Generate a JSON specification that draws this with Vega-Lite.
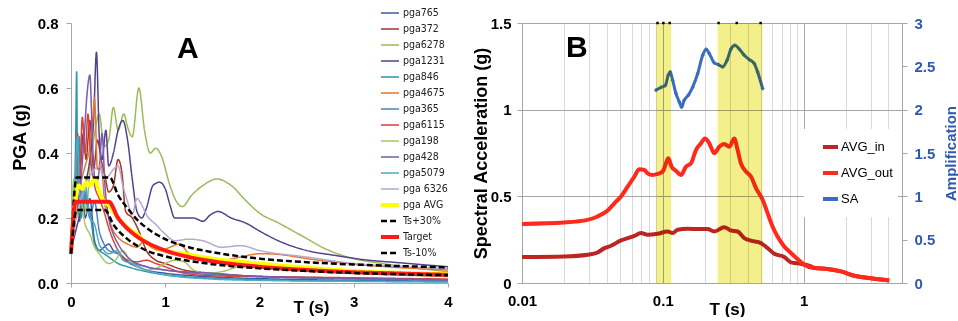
{
"$schema": "https://vega.github.io/schema/vega-lite/v6.json",
"background": "white",
"padding": {"left": 11, "top": 5, "right": 0, "bottom": 0},
"bounds": "flush",
"spacing": 74,
"resolve": {"scale": {"color": "independent", "strokeDash": "independent", "strokeWidth": "independent"}, "legend": {"color": "independent", "strokeDash": "independent", "strokeWidth": "independent"}},
"config": {
  "view": {"stroke": null},
  "font": "Liberation Sans",
  "axis": {"labelFont": "Liberation Sans", "labelFontWeight": "bold", "labelFontSize": 15, "labelColor": "black", "titleFont": "Liberation Sans", "titleFontWeight": "bold", "titleColor": "black", "domainColor": "#A6A6A6", "tickColor": "#A6A6A6", "grid": false, "labelFlush": false, "labelOverlap": false}
},
"datasets": {
"recA": [
{"s":"pga765","T":0,"v":0.1},{"s":"pga765","T":0.03,"v":0.16},{"s":"pga765","T":0.06,"v":0.25},{"s":"pga765","T":0.09,"v":0.19},{"s":"pga765","T":0.12,"v":0.3},{"s":"pga765","T":0.15,"v":0.2},{"s":"pga765","T":0.2,"v":0.26},{"s":"pga765","T":0.25,"v":0.13},{"s":"pga765","T":0.3,"v":0.1},{"s":"pga765","T":0.35,"v":0.11},{"s":"pga765","T":0.4,"v":0.12},{"s":"pga765","T":0.45,"v":0.1},{"s":"pga765","T":0.5,"v":0.09},{"s":"pga765","T":0.6,"v":0.065},{"s":"pga765","T":0.7,"v":0.05},{"s":"pga765","T":0.8,"v":0.04},{"s":"pga765","T":1.0,"v":0.03},{"s":"pga765","T":1.3,"v":0.022},{"s":"pga765","T":1.7,"v":0.016},{"s":"pga765","T":2.2,"v":0.012},{"s":"pga765","T":3,"v":0.008},{"s":"pga765","T":4,"v":0.006},
{"s":"pga372","T":0,"v":0.1},{"s":"pga372","T":0.04,"v":0.28},{"s":"pga372","T":0.07,"v":0.42},{"s":"pga372","T":0.1,"v":0.36},{"s":"pga372","T":0.13,"v":0.46},{"s":"pga372","T":0.16,"v":0.38},{"s":"pga372","T":0.2,"v":0.5},{"s":"pga372","T":0.24,"v":0.35},{"s":"pga372","T":0.28,"v":0.44},{"s":"pga372","T":0.32,"v":0.38},{"s":"pga372","T":0.36,"v":0.33},{"s":"pga372","T":0.4,"v":0.28},{"s":"pga372","T":0.45,"v":0.3},{"s":"pga372","T":0.5,"v":0.38},{"s":"pga372","T":0.54,"v":0.34},{"s":"pga372","T":0.58,"v":0.22},{"s":"pga372","T":0.65,"v":0.2},{"s":"pga372","T":0.72,"v":0.16},{"s":"pga372","T":0.8,"v":0.1},{"s":"pga372","T":0.9,"v":0.07},{"s":"pga372","T":1.0,"v":0.06},{"s":"pga372","T":1.2,"v":0.04},{"s":"pga372","T":1.5,"v":0.03},{"s":"pga372","T":2,"v":0.02},{"s":"pga372","T":3,"v":0.014},{"s":"pga372","T":4,"v":0.01},
{"s":"pga6278","T":0,"v":0.1},{"s":"pga6278","T":0.04,"v":0.3},{"s":"pga6278","T":0.08,"v":0.2},{"s":"pga6278","T":0.12,"v":0.3},{"s":"pga6278","T":0.16,"v":0.22},{"s":"pga6278","T":0.2,"v":0.35},{"s":"pga6278","T":0.25,"v":0.46},{"s":"pga6278","T":0.3,"v":0.52},{"s":"pga6278","T":0.35,"v":0.42},{"s":"pga6278","T":0.4,"v":0.44},{"s":"pga6278","T":0.45,"v":0.54},{"s":"pga6278","T":0.5,"v":0.47},{"s":"pga6278","T":0.56,"v":0.52},{"s":"pga6278","T":0.6,"v":0.48},{"s":"pga6278","T":0.65,"v":0.45},{"s":"pga6278","T":0.72,"v":0.6},{"s":"pga6278","T":0.78,"v":0.47},{"s":"pga6278","T":0.84,"v":0.4},{"s":"pga6278","T":0.9,"v":0.415},{"s":"pga6278","T":0.96,"v":0.39},{"s":"pga6278","T":1.05,"v":0.3},{"s":"pga6278","T":1.12,"v":0.25},{"s":"pga6278","T":1.18,"v":0.235},{"s":"pga6278","T":1.28,"v":0.27},{"s":"pga6278","T":1.4,"v":0.3},{"s":"pga6278","T":1.55,"v":0.32},{"s":"pga6278","T":1.7,"v":0.3},{"s":"pga6278","T":1.85,"v":0.255},{"s":"pga6278","T":2.0,"v":0.215},{"s":"pga6278","T":2.2,"v":0.185},{"s":"pga6278","T":2.45,"v":0.145},{"s":"pga6278","T":2.7,"v":0.105},{"s":"pga6278","T":3.0,"v":0.075},{"s":"pga6278","T":3.3,"v":0.06},{"s":"pga6278","T":3.6,"v":0.048},{"s":"pga6278","T":4.0,"v":0.035},
{"s":"pga1231","T":0,"v":0.1},{"s":"pga1231","T":0.05,"v":0.16},{"s":"pga1231","T":0.1,"v":0.22},{"s":"pga1231","T":0.15,"v":0.3},{"s":"pga1231","T":0.2,"v":0.38},{"s":"pga1231","T":0.24,"v":0.5},{"s":"pga1231","T":0.27,"v":0.71},{"s":"pga1231","T":0.3,"v":0.45},{"s":"pga1231","T":0.33,"v":0.38},{"s":"pga1231","T":0.37,"v":0.47},{"s":"pga1231","T":0.4,"v":0.36},{"s":"pga1231","T":0.45,"v":0.4},{"s":"pga1231","T":0.5,"v":0.47},{"s":"pga1231","T":0.55,"v":0.5},{"s":"pga1231","T":0.6,"v":0.44},{"s":"pga1231","T":0.65,"v":0.32},{"s":"pga1231","T":0.7,"v":0.22},{"s":"pga1231","T":0.75,"v":0.2},{"s":"pga1231","T":0.8,"v":0.23},{"s":"pga1231","T":0.87,"v":0.3},{"s":"pga1231","T":0.94,"v":0.31},{"s":"pga1231","T":1.0,"v":0.29},{"s":"pga1231","T":1.05,"v":0.24},{"s":"pga1231","T":1.1,"v":0.2},{"s":"pga1231","T":1.2,"v":0.2},{"s":"pga1231","T":1.3,"v":0.2},{"s":"pga1231","T":1.4,"v":0.19},{"s":"pga1231","T":1.48,"v":0.21},{"s":"pga1231","T":1.56,"v":0.22},{"s":"pga1231","T":1.7,"v":0.2},{"s":"pga1231","T":1.85,"v":0.185},{"s":"pga1231","T":2.0,"v":0.16},{"s":"pga1231","T":2.2,"v":0.13},{"s":"pga1231","T":2.5,"v":0.1},{"s":"pga1231","T":2.8,"v":0.085},{"s":"pga1231","T":3.1,"v":0.072},{"s":"pga1231","T":3.5,"v":0.062},{"s":"pga1231","T":4.0,"v":0.05},
{"s":"pga846","T":0,"v":0.1},{"s":"pga846","T":0.03,"v":0.2},{"s":"pga846","T":0.05,"v":0.45},{"s":"pga846","T":0.06,"v":0.65},{"s":"pga846","T":0.07,"v":0.3},{"s":"pga846","T":0.09,"v":0.45},{"s":"pga846","T":0.11,"v":0.2},{"s":"pga846","T":0.13,"v":0.3},{"s":"pga846","T":0.16,"v":0.25},{"s":"pga846","T":0.2,"v":0.22},{"s":"pga846","T":0.25,"v":0.12},{"s":"pga846","T":0.3,"v":0.1},{"s":"pga846","T":0.35,"v":0.09},{"s":"pga846","T":0.4,"v":0.08},{"s":"pga846","T":0.5,"v":0.06},{"s":"pga846","T":0.6,"v":0.05},{"s":"pga846","T":0.8,"v":0.035},{"s":"pga846","T":1.0,"v":0.025},{"s":"pga846","T":1.5,"v":0.015},{"s":"pga846","T":2,"v":0.01},{"s":"pga846","T":3,"v":0.006},{"s":"pga846","T":4,"v":0.004},
{"s":"pga4675","T":0,"v":0.1},{"s":"pga4675","T":0.05,"v":0.2},{"s":"pga4675","T":0.1,"v":0.3},{"s":"pga4675","T":0.15,"v":0.36},{"s":"pga4675","T":0.2,"v":0.42},{"s":"pga4675","T":0.23,"v":0.5},{"s":"pga4675","T":0.25,"v":0.57},{"s":"pga4675","T":0.28,"v":0.35},{"s":"pga4675","T":0.32,"v":0.36},{"s":"pga4675","T":0.36,"v":0.24},{"s":"pga4675","T":0.4,"v":0.2},{"s":"pga4675","T":0.45,"v":0.16},{"s":"pga4675","T":0.5,"v":0.14},{"s":"pga4675","T":0.6,"v":0.12},{"s":"pga4675","T":0.7,"v":0.11},{"s":"pga4675","T":0.78,"v":0.13},{"s":"pga4675","T":0.85,"v":0.11},{"s":"pga4675","T":0.95,"v":0.1},{"s":"pga4675","T":1.05,"v":0.11},{"s":"pga4675","T":1.15,"v":0.12},{"s":"pga4675","T":1.25,"v":0.09},{"s":"pga4675","T":1.4,"v":0.07},{"s":"pga4675","T":1.6,"v":0.07},{"s":"pga4675","T":1.8,"v":0.08},{"s":"pga4675","T":2.0,"v":0.09},{"s":"pga4675","T":2.2,"v":0.088},{"s":"pga4675","T":2.5,"v":0.075},{"s":"pga4675","T":3.0,"v":0.058},{"s":"pga4675","T":3.5,"v":0.047},{"s":"pga4675","T":4.0,"v":0.04},
{"s":"pga365","T":0,"v":0.1},{"s":"pga365","T":0.05,"v":0.22},{"s":"pga365","T":0.09,"v":0.33},{"s":"pga365","T":0.12,"v":0.22},{"s":"pga365","T":0.15,"v":0.28},{"s":"pga365","T":0.2,"v":0.2},{"s":"pga365","T":0.25,"v":0.25},{"s":"pga365","T":0.3,"v":0.16},{"s":"pga365","T":0.35,"v":0.12},{"s":"pga365","T":0.4,"v":0.1},{"s":"pga365","T":0.5,"v":0.09},{"s":"pga365","T":0.6,"v":0.07},{"s":"pga365","T":0.8,"v":0.05},{"s":"pga365","T":1.0,"v":0.04},{"s":"pga365","T":1.3,"v":0.03},{"s":"pga365","T":2.0,"v":0.02},{"s":"pga365","T":3.0,"v":0.012},{"s":"pga365","T":4.0,"v":0.009},
{"s":"pga6115","T":0,"v":0.1},{"s":"pga6115","T":0.04,"v":0.25},{"s":"pga6115","T":0.07,"v":0.46},{"s":"pga6115","T":0.09,"v":0.3},{"s":"pga6115","T":0.12,"v":0.51},{"s":"pga6115","T":0.15,"v":0.4},{"s":"pga6115","T":0.18,"v":0.52},{"s":"pga6115","T":0.21,"v":0.38},{"s":"pga6115","T":0.25,"v":0.3},{"s":"pga6115","T":0.3,"v":0.26},{"s":"pga6115","T":0.35,"v":0.22},{"s":"pga6115","T":0.4,"v":0.17},{"s":"pga6115","T":0.45,"v":0.13},{"s":"pga6115","T":0.5,"v":0.1},{"s":"pga6115","T":0.6,"v":0.07},{"s":"pga6115","T":0.7,"v":0.065},{"s":"pga6115","T":0.8,"v":0.07},{"s":"pga6115","T":0.9,"v":0.06},{"s":"pga6115","T":1.0,"v":0.05},{"s":"pga6115","T":1.2,"v":0.03},{"s":"pga6115","T":1.5,"v":0.022},{"s":"pga6115","T":2.0,"v":0.02},{"s":"pga6115","T":3.0,"v":0.016},{"s":"pga6115","T":4.0,"v":0.012},
{"s":"pga198","T":0,"v":0.1},{"s":"pga198","T":0.03,"v":0.32},{"s":"pga198","T":0.06,"v":0.22},{"s":"pga198","T":0.1,"v":0.26},{"s":"pga198","T":0.15,"v":0.18},{"s":"pga198","T":0.2,"v":0.15},{"s":"pga198","T":0.25,"v":0.11},{"s":"pga198","T":0.3,"v":0.09},{"s":"pga198","T":0.35,"v":0.07},{"s":"pga198","T":0.4,"v":0.06},{"s":"pga198","T":0.47,"v":0.07},{"s":"pga198","T":0.55,"v":0.1},{"s":"pga198","T":0.62,"v":0.07},{"s":"pga198","T":0.7,"v":0.05},{"s":"pga198","T":0.8,"v":0.04},{"s":"pga198","T":0.9,"v":0.045},{"s":"pga198","T":1.0,"v":0.06},{"s":"pga198","T":1.1,"v":0.07},{"s":"pga198","T":1.2,"v":0.065},{"s":"pga198","T":1.3,"v":0.04},{"s":"pga198","T":1.45,"v":0.03},{"s":"pga198","T":1.6,"v":0.035},{"s":"pga198","T":1.8,"v":0.05},{"s":"pga198","T":2.0,"v":0.05},{"s":"pga198","T":2.5,"v":0.038},{"s":"pga198","T":3.0,"v":0.03},{"s":"pga198","T":3.5,"v":0.024},{"s":"pga198","T":4.0,"v":0.02},
{"s":"pga428","T":0,"v":0.1},{"s":"pga428","T":0.05,"v":0.2},{"s":"pga428","T":0.1,"v":0.3},{"s":"pga428","T":0.14,"v":0.45},{"s":"pga428","T":0.17,"v":0.58},{"s":"pga428","T":0.2,"v":0.64},{"s":"pga428","T":0.23,"v":0.42},{"s":"pga428","T":0.26,"v":0.3},{"s":"pga428","T":0.3,"v":0.35},{"s":"pga428","T":0.33,"v":0.46},{"s":"pga428","T":0.36,"v":0.3},{"s":"pga428","T":0.4,"v":0.2},{"s":"pga428","T":0.45,"v":0.15},{"s":"pga428","T":0.5,"v":0.12},{"s":"pga428","T":0.6,"v":0.08},{"s":"pga428","T":0.8,"v":0.05},{"s":"pga428","T":1.0,"v":0.04},{"s":"pga428","T":1.5,"v":0.03},{"s":"pga428","T":2.0,"v":0.02},{"s":"pga428","T":3.0,"v":0.015},{"s":"pga428","T":4.0,"v":0.01},
{"s":"pga5079","T":0,"v":0.1},{"s":"pga5079","T":0.03,"v":0.2},{"s":"pga5079","T":0.05,"v":0.35},{"s":"pga5079","T":0.07,"v":0.45},{"s":"pga5079","T":0.09,"v":0.28},{"s":"pga5079","T":0.12,"v":0.25},{"s":"pga5079","T":0.15,"v":0.3},{"s":"pga5079","T":0.2,"v":0.2},{"s":"pga5079","T":0.25,"v":0.18},{"s":"pga5079","T":0.3,"v":0.12},{"s":"pga5079","T":0.35,"v":0.1},{"s":"pga5079","T":0.4,"v":0.09},{"s":"pga5079","T":0.5,"v":0.1},{"s":"pga5079","T":0.55,"v":0.07},{"s":"pga5079","T":0.65,"v":0.06},{"s":"pga5079","T":0.8,"v":0.04},{"s":"pga5079","T":1.0,"v":0.025},{"s":"pga5079","T":1.5,"v":0.012},{"s":"pga5079","T":2.0,"v":0.008},{"s":"pga5079","T":3.0,"v":0.005},{"s":"pga5079","T":4.0,"v":0.003},
{"s":"pga 6326","T":0,"v":0.1},{"s":"pga 6326","T":0.05,"v":0.2},{"s":"pga 6326","T":0.1,"v":0.25},{"s":"pga 6326","T":0.15,"v":0.3},{"s":"pga 6326","T":0.2,"v":0.33},{"s":"pga 6326","T":0.25,"v":0.35},{"s":"pga 6326","T":0.3,"v":0.36},{"s":"pga 6326","T":0.35,"v":0.32},{"s":"pga 6326","T":0.4,"v":0.33},{"s":"pga 6326","T":0.45,"v":0.35},{"s":"pga 6326","T":0.5,"v":0.36},{"s":"pga 6326","T":0.55,"v":0.3},{"s":"pga 6326","T":0.6,"v":0.25},{"s":"pga 6326","T":0.65,"v":0.21},{"s":"pga 6326","T":0.7,"v":0.26},{"s":"pga 6326","T":0.75,"v":0.24},{"s":"pga 6326","T":0.8,"v":0.21},{"s":"pga 6326","T":0.9,"v":0.18},{"s":"pga 6326","T":1.0,"v":0.15},{"s":"pga 6326","T":1.1,"v":0.13},{"s":"pga 6326","T":1.25,"v":0.135},{"s":"pga 6326","T":1.4,"v":0.13},{"s":"pga 6326","T":1.6,"v":0.11},{"s":"pga 6326","T":1.8,"v":0.115},{"s":"pga 6326","T":2.0,"v":0.1},{"s":"pga 6326","T":2.5,"v":0.08},{"s":"pga 6326","T":3.0,"v":0.06},{"s":"pga 6326","T":3.5,"v":0.05},{"s":"pga 6326","T":4.0,"v":0.045},
{"s":"pga AVG","T":0,"v":0.1},{"s":"pga AVG","T":0.05,"v":0.26},{"s":"pga AVG","T":0.08,"v":0.3},{"s":"pga AVG","T":0.12,"v":0.29},{"s":"pga AVG","T":0.16,"v":0.31},{"s":"pga AVG","T":0.2,"v":0.3},{"s":"pga AVG","T":0.25,"v":0.32},{"s":"pga AVG","T":0.3,"v":0.28},{"s":"pga AVG","T":0.35,"v":0.25},{"s":"pga AVG","T":0.4,"v":0.24},{"s":"pga AVG","T":0.45,"v":0.22},{"s":"pga AVG","T":0.5,"v":0.2},{"s":"pga AVG","T":0.6,"v":0.17},{"s":"pga AVG","T":0.7,"v":0.15},{"s":"pga AVG","T":0.8,"v":0.125},{"s":"pga AVG","T":0.9,"v":0.11},{"s":"pga AVG","T":1.0,"v":0.1},{"s":"pga AVG","T":1.2,"v":0.09},{"s":"pga AVG","T":1.5,"v":0.075},{"s":"pga AVG","T":2.0,"v":0.06},{"s":"pga AVG","T":2.5,"v":0.047},{"s":"pga AVG","T":3.0,"v":0.037},{"s":"pga AVG","T":3.5,"v":0.031},{"s":"pga AVG","T":4.0,"v":0.027},
{"s":"Ts+30%","T":0,"v":0.1},{"s":"Ts+30%","T":0.06,"v":0.325},{"s":"Ts+30%","T":0.41,"v":0.325},{"s":"Ts+30%","T":0.5,"v":0.27},{"s":"Ts+30%","T":0.6,"v":0.23},{"s":"Ts+30%","T":0.7,"v":0.195},{"s":"Ts+30%","T":0.8,"v":0.17},{"s":"Ts+30%","T":1.0,"v":0.135},{"s":"Ts+30%","T":1.25,"v":0.11},{"s":"Ts+30%","T":1.5,"v":0.095},{"s":"Ts+30%","T":2.0,"v":0.075},{"s":"Ts+30%","T":2.5,"v":0.064},{"s":"Ts+30%","T":3.0,"v":0.057},{"s":"Ts+30%","T":3.5,"v":0.052},{"s":"Ts+30%","T":4.0,"v":0.048},
{"s":"Target","T":0,"v":0.09},{"s":"Target","T":0.05,"v":0.25},{"s":"Target","T":0.4,"v":0.25},{"s":"Target","T":0.5,"v":0.2},{"s":"Target","T":0.6,"v":0.167},{"s":"Target","T":0.7,"v":0.143},{"s":"Target","T":0.8,"v":0.125},{"s":"Target","T":1.0,"v":0.1},{"s":"Target","T":1.25,"v":0.08},{"s":"Target","T":1.5,"v":0.067},{"s":"Target","T":2.0,"v":0.05},{"s":"Target","T":2.5,"v":0.04},{"s":"Target","T":3.0,"v":0.033},{"s":"Target","T":3.5,"v":0.029},{"s":"Target","T":4.0,"v":0.025},
{"s":"Ts-10%","T":0,"v":0.09},{"s":"Ts-10%","T":0.06,"v":0.225},{"s":"Ts-10%","T":0.36,"v":0.225},{"s":"Ts-10%","T":0.45,"v":0.18},{"s":"Ts-10%","T":0.6,"v":0.135},{"s":"Ts-10%","T":0.7,"v":0.115},{"s":"Ts-10%","T":0.8,"v":0.1},{"s":"Ts-10%","T":1.0,"v":0.082},{"s":"Ts-10%","T":1.25,"v":0.068},{"s":"Ts-10%","T":1.5,"v":0.058},{"s":"Ts-10%","T":2.0,"v":0.045},{"s":"Ts-10%","T":2.5,"v":0.037},{"s":"Ts-10%","T":3.0,"v":0.031},{"s":"Ts-10%","T":3.5,"v":0.027},{"s":"Ts-10%","T":4.0,"v":0.024}
],
"specB": [
{"s":"AVG_in","T":0.01,"v":0.15},{"s":"AVG_in","T":0.02,"v":0.153},{"s":"AVG_in","T":0.0292,"v":0.163},{"s":"AVG_in","T":0.0344,"v":0.176},{"s":"AVG_in","T":0.0385,"v":0.201},{"s":"AVG_in","T":0.0429,"v":0.215},{"s":"AVG_in","T":0.0505,"v":0.246},{"s":"AVG_in","T":0.0563,"v":0.259},{"s":"AVG_in","T":0.0628,"v":0.272},{"s":"AVG_in","T":0.07,"v":0.288},{"s":"AVG_in","T":0.078,"v":0.278},{"s":"AVG_in","T":0.0919,"v":0.284},{"s":"AVG_in","T":0.108,"v":0.297},{"s":"AVG_in","T":0.1175,"v":0.288},{"s":"AVG_in","T":0.1274,"v":0.307},{"s":"AVG_in","T":0.15,"v":0.313},{"s":"AVG_in","T":0.177,"v":0.311},{"s":"AVG_in","T":0.208,"v":0.311},{"s":"AVG_in","T":0.232,"v":0.297},{"s":"AVG_in","T":0.273,"v":0.322},{"s":"AVG_in","T":0.305,"v":0.303},{"s":"AVG_in","T":0.34,"v":0.297},{"s":"AVG_in","T":0.379,"v":0.259},{"s":"AVG_in","T":0.423,"v":0.244},{"s":"AVG_in","T":0.498,"v":0.23},{"s":"AVG_in","T":0.555,"v":0.201},{"s":"AVG_in","T":0.619,"v":0.169},{"s":"AVG_in","T":0.729,"v":0.15},{"s":"AVG_in","T":0.813,"v":0.119},{"s":"AVG_in","T":0.957,"v":0.111},{"s":"AVG_in","T":1.127,"v":0.096},{"s":"AVG_in","T":1.19,"v":0.088},{"s":"AVG_in","T":1.48,"v":0.081},{"s":"AVG_in","T":1.84,"v":0.067},{"s":"AVG_in","T":2.29,"v":0.042},{"s":"AVG_in","T":3.0,"v":0.027},{"s":"AVG_in","T":4.06,"v":0.015},
{"s":"AVG_out","T":0.01,"v":0.341},{"s":"AVG_out","T":0.02,"v":0.349},{"s":"AVG_out","T":0.0292,"v":0.364},{"s":"AVG_out","T":0.0344,"v":0.384},{"s":"AVG_out","T":0.0406,"v":0.418},{"s":"AVG_out","T":0.0453,"v":0.46},{"s":"AVG_out","T":0.0505,"v":0.499},{"s":"AVG_out","T":0.0563,"v":0.556},{"s":"AVG_out","T":0.0628,"v":0.614},{"s":"AVG_out","T":0.0681,"v":0.656},{"s":"AVG_out","T":0.0739,"v":0.652},{"s":"AVG_out","T":0.078,"v":0.633},{"s":"AVG_out","T":0.0847,"v":0.623},{"s":"AVG_out","T":0.0919,"v":0.629},{"s":"AVG_out","T":0.0997,"v":0.643},{"s":"AVG_out","T":0.1053,"v":0.69},{"s":"AVG_out","T":0.1094,"v":0.719},{"s":"AVG_out","T":0.1155,"v":0.671},{"s":"AVG_out","T":0.124,"v":0.648},{"s":"AVG_out","T":0.1346,"v":0.623},{"s":"AVG_out","T":0.146,"v":0.671},{"s":"AVG_out","T":0.1585,"v":0.69},{"s":"AVG_out","T":0.172,"v":0.767},{"s":"AVG_out","T":0.187,"v":0.806},{"s":"AVG_out","T":0.199,"v":0.834},{"s":"AVG_out","T":0.214,"v":0.806},{"s":"AVG_out","T":0.232,"v":0.748},{"s":"AVG_out","T":0.252,"v":0.786},{"s":"AVG_out","T":0.273,"v":0.802},{"s":"AVG_out","T":0.297,"v":0.786},{"s":"AVG_out","T":0.322,"v":0.834},{"s":"AVG_out","T":0.34,"v":0.767},{"s":"AVG_out","T":0.359,"v":0.69},{"s":"AVG_out","T":0.39,"v":0.643},{"s":"AVG_out","T":0.423,"v":0.614},{"s":"AVG_out","T":0.459,"v":0.547},{"s":"AVG_out","T":0.512,"v":0.48},{"s":"AVG_out","T":0.555,"v":0.403},{"s":"AVG_out","T":0.602,"v":0.326},{"s":"AVG_out","T":0.653,"v":0.268},{"s":"AVG_out","T":0.729,"v":0.211},{"s":"AVG_out","T":0.813,"v":0.173},{"s":"AVG_out","T":0.906,"v":0.138},{"s":"AVG_out","T":1.01,"v":0.105},{"s":"AVG_out","T":1.19,"v":0.086},{"s":"AVG_out","T":1.48,"v":0.081},{"s":"AVG_out","T":1.84,"v":0.067},{"s":"AVG_out","T":2.29,"v":0.042},{"s":"AVG_out","T":3.0,"v":0.027},{"s":"AVG_out","T":4.06,"v":0.015}
],
"ampB": [
{"s":"SA","T":0.0894,"a":2.225},{"s":"SA","T":0.097,"a":2.256},{"s":"SA","T":0.1043,"a":2.28},{"s":"SA","T":0.1094,"a":2.4},{"s":"SA","T":0.113,"a":2.436},{"s":"SA","T":0.1175,"a":2.34},{"s":"SA","T":0.124,"a":2.187},{"s":"SA","T":0.131,"a":2.09},{"s":"SA","T":0.136,"a":2.03},{"s":"SA","T":0.142,"a":2.11},{"s":"SA","T":0.152,"a":2.167},{"s":"SA","T":0.163,"a":2.26},{"s":"SA","T":0.177,"a":2.417},{"s":"SA","T":0.192,"a":2.628},{"s":"SA","T":0.203,"a":2.697},{"s":"SA","T":0.214,"a":2.647},{"s":"SA","T":0.232,"a":2.54},{"s":"SA","T":0.248,"a":2.52},{"s":"SA","T":0.266,"a":2.494},{"s":"SA","T":0.286,"a":2.57},{"s":"SA","T":0.305,"a":2.7},{"s":"SA","T":0.325,"a":2.743},{"s":"SA","T":0.349,"a":2.7},{"s":"SA","T":0.379,"a":2.628},{"s":"SA","T":0.411,"a":2.578},{"s":"SA","T":0.446,"a":2.532},{"s":"SA","T":0.471,"a":2.436},{"s":"SA","T":0.512,"a":2.244}
],
"bandsB": [{"T1":0.09,"T2":0.115},{"T1":0.245,"T2":0.51}],
"dotsB": [{"T":0.0917},{"T":0.101},{"T":0.112},{"T":0.249},{"T":0.335},{"T":0.495}],
"one": [{}]
},
"hconcat": [
{
 "width": 377, "height": 260,
 "layer": [
  {
   "data": {"name": "recA"},
   "mark": {"type": "line", "interpolate": "monotone"},
   "encoding": {
    "x": {"field": "T", "type": "quantitative", "title": "T (s)", "scale": {"domain": [0, 4], "nice": false},
          "axis": {"values": [0,1,2,3,4], "format": "d", "titleFontSize": 17, "titleX": 240, "titleY": 24, "titleBaseline": "middle", "labelPadding": 7, "tickSize": 4}},
    "y": {"field": "v", "type": "quantitative", "title": "PGA (g)", "scale": {"domain": [0, 0.8], "nice": false},
          "axis": {"values": [0,0.1,0.2,0.3,0.4,0.5,0.6,0.7,0.8], "format": ".1f", "titleFontSize": 18, "titleX": -50.5, "titleY": 114, "titleAngle": -90, "titleBaseline": "middle", "titleAlign": "center", "labelPadding": 8, "tickSize": 5}},
    "color": {"field": "s", "type": "nominal",
      "scale": {"domain": ["pga765","pga372","pga6278","pga1231","pga846","pga4675","pga365","pga6115","pga198","pga428","pga5079","pga 6326","pga AVG","Ts+30%","Target","Ts-10%"],
                "range": ["#3F5BA0","#A8332B","#9BBB59","#54408F","#2C93B0","#E8772E","#4F81BD","#D8413A","#A5C864","#7A5BB0","#4BACC6","#B7A7CF","#FFFF00","#000000","#FF1A1A","#000000"]},
      "legend": {"title": null, "orient": "none", "legendX": 308, "legendY": -18, "symbolType": "stroke", "symbolSize": 324, "clipHeight": 16, "rowPadding": 0, "padding": 0, "labelFont": "DejaVu Sans Condensed, Liberation Sans, sans-serif", "labelFontSize": 10.5, "labelColor": "#222222", "labelOffset": 2}},
    "strokeDash": {"field": "s", "type": "nominal",
      "scale": {"domain": ["pga765","pga372","pga6278","pga1231","pga846","pga4675","pga365","pga6115","pga198","pga428","pga5079","pga 6326","pga AVG","Ts+30%","Target","Ts-10%"],
                "range": [[1,0],[1,0],[1,0],[1,0],[1,0],[1,0],[1,0],[1,0],[1,0],[1,0],[1,0],[1,0],[1,0],[6,3],[1,0],[6,3]]}},
    "strokeWidth": {"field": "s", "type": "nominal",
      "scale": {"type": "ordinal", "domain": ["pga765","pga372","pga6278","pga1231","pga846","pga4675","pga365","pga6115","pga198","pga428","pga5079","pga 6326","pga AVG","Ts+30%","Target","Ts-10%"],
                "range": [1.5,1.5,1.5,1.5,1.5,1.5,1.5,1.5,1.5,1.5,1.5,1.5,4,2.5,4,2.5]}}
   }
  },
  {
   "data": {"name": "one"},
   "mark": {"type": "text", "fontSize": 30, "fontWeight": "bold", "font": "Liberation Sans", "align": "center", "baseline": "middle", "color": "black"},
   "encoding": {"x": {"datum": 1.24, "type": "quantitative"}, "y": {"datum": 0.72, "type": "quantitative"}, "text": {"value": "A"}}
  }
 ]
},
{
 "width": 380, "height": 260,
 "layer": [
  {
   "data": {"name": "specB"},
   "mark": {"type": "line", "interpolate": "monotone", "strokeWidth": 4},
   "encoding": {
    "x": {"field": "T", "type": "quantitative", "title": "T (s)", "scale": {"type": "log", "domain": [0.01, 5], "nice": false},
          "axis": {"values": [0.01,0.02,0.03,0.04,0.05,0.06,0.07,0.08,0.09,0.1,0.2,0.3,0.4,0.5,0.6,0.7,0.8,0.9,1,2,3,4,5], "format": "~g",
                   "labelExpr": "(datum.value == 0.01 || datum.value == 0.1 || datum.value == 1) ? datum.label : ''",
                   "grid": true, "gridColor": {"condition": {"test": "datum.value == 0.1 || datum.value == 1", "value": "#ABABAB"}, "value": "#D9D9D9"},
                   "ticks": false, "labelPadding": 10, "titleFontSize": 17, "titleX": 205, "titleY": 26, "titleBaseline": "middle"}},
    "y": {"field": "v", "type": "quantitative", "title": "Spectral Acceleration (g)", "scale": {"domain": [0, 1.5], "nice": false},
          "axis": {"orient": "left", "values": [0, 0.5, 1, 1.5], "format": "~g", "grid": true, "gridColor": "#A6A6A6", "titleFontSize": 18, "titleX": -41, "titleY": 130, "titleAngle": -90, "titleBaseline": "middle", "titleAlign": "center", "labelPadding": 6, "tickSize": 5}},
    "color": {"field": "s", "type": "nominal",
      "scale": {"domain": ["AVG_in", "AVG_out", "SA"], "range": ["#BB2522", "#FF2A1C", "#3A6CC0"]},
      "legend": {"title": null, "orient": "none", "legendX": 282, "legendY": 106, "symbolType": "stroke", "symbolSize": 225, "symbolStrokeWidth": 4, "clipHeight": 25.8, "rowPadding": 0, "padding": 5, "symbolOffset": 12, "fillColor": "white", "labelFont": "Liberation Sans", "labelFontSize": 13, "labelColor": "black", "labelOffset": 1}}
   }
  },
  {
   "data": {"name": "ampB"},
   "mark": {"type": "line", "interpolate": "monotone", "strokeWidth": 3},
   "encoding": {
    "x": {"field": "T", "type": "quantitative", "title": "T (s)"},
    "y": {"field": "a", "type": "quantitative", "title": "Amplification", "scale": {"domain": [0, 3], "nice": false},
          "axis": {"orient": "right", "values": [0,0.5,1,1.5,2,2.5,3], "format": "~g", "labelColor": "#2E59B0", "titleColor": "#2E59B0", "titleFontSize": 15, "titleAngle": 270, "titleX": 48, "titleY": 130, "titleBaseline": "middle", "titleAlign": "center", "labelPadding": 7, "tickSize": 5}},
    "color": {"field": "s", "type": "nominal"}
   }
  },
  {
   "data": {"name": "ampB"},
   "mark": {"type": "point", "shape": "diamond", "filled": true, "size": 18, "color": "#3A6CC0", "opacity": 1},
   "encoding": {
    "x": {"field": "T", "type": "quantitative", "title": "T (s)"},
    "y": {"field": "a", "type": "quantitative", "scale": {"domain": [0, 3], "nice": false}, "axis": null}
   }
  },
  {
   "data": {"name": "bandsB"},
   "mark": {"type": "rect", "color": "#F3F08C", "blend": "multiply", "opacity": 1},
   "encoding": {
    "x": {"field": "T1", "type": "quantitative", "title": "T (s)"},
    "x2": {"field": "T2"}
   }
  },
  {
   "data": {"name": "dotsB"},
   "mark": {"type": "point", "shape": "square", "filled": true, "size": 6, "color": "black", "opacity": 1},
   "encoding": {
    "x": {"field": "T", "type": "quantitative", "title": "T (s)"},
    "y": {"datum": 1.5, "type": "quantitative", "scale": {"domain": [0, 1.5], "nice": false}, "axis": null}
   }
  },
  {
   "data": {"name": "one"},
   "mark": {"type": "text", "fontSize": 30, "fontWeight": "bold", "font": "Liberation Sans", "align": "center", "baseline": "middle", "color": "black"},
   "encoding": {"x": {"datum": 0.0245, "type": "quantitative"}, "y": {"datum": 1.353, "type": "quantitative", "scale": {"domain": [0, 1.5], "nice": false}, "axis": null}, "text": {"value": "B"}}
  }
 ],
 "resolve": {"scale": {"y": "independent"}}
}
]
}
